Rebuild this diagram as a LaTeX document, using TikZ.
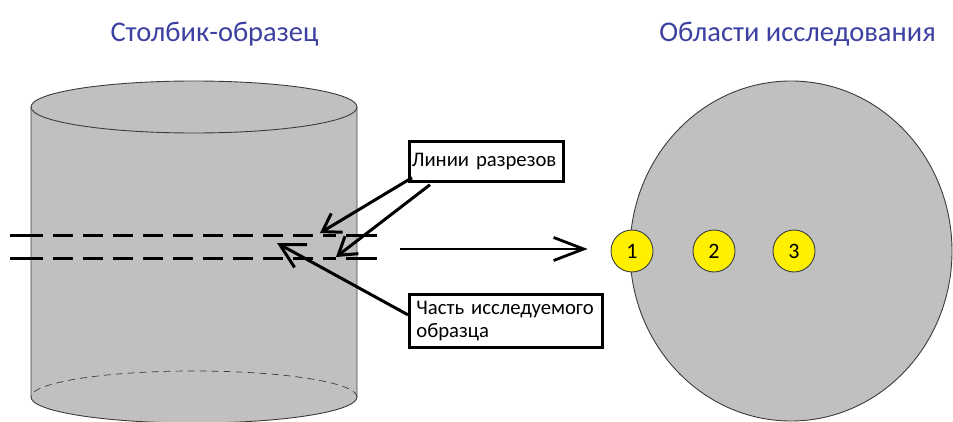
\documentclass[tikz,border=0pt]{standalone}
\usepackage{fontspec}
\setmainfont{Carlito}
\usetikzlibrary{arrows.meta,calc}
\definecolor{bodygray}{RGB}{192,192,192}
\definecolor{edgegray}{RGB}{60,60,60}
\definecolor{titleblue}{RGB}{60,64,160}
\definecolor{spotyellow}{RGB}{255,240,0}
\begin{document}
\begin{tikzpicture}[x=1pt,y=-1pt,
  title/.style={text=titleblue,font=\fontsize{28.5}{32}\selectfont,inner sep=0pt},
  outline/.style={draw=edgegray,line width=0.9pt},
  cutline/.style={line width=3pt,black},
  labelbox/.style={draw=black,line width=2.7pt,fill=white,align=left,
    font=\fontsize{20.7}{23}\selectfont,anchor=north west},
  spot/.style={circle,minimum size=42pt,inner sep=0pt,fill=spotyellow,
    draw=edgegray,line width=0.9pt,font=\fontsize{22}{24}\selectfont},
  pointer/.style={line width=3pt,-{Straight Barb[length=17pt,width=22pt]}},
  bigpointer/.style={line width=2.8pt,-{Straight Barb[length=30pt,width=23pt]}}]
\useasboundingbox (0,0) rectangle (953,422);

% headings
\node[title] (head1) at (214.5,34) {Столбик-образец};
\node[title] (head2) at (797.5,34) {Области исследования};

% the sample column
\fill[bodygray] (31,107) rectangle (357,397);
\fill[bodygray] (194,397) ellipse[x radius=163,y radius=26];
\draw[outline] (31,107) -- (31,397)
  arc[start angle=180,end angle=0,x radius=163,y radius=26] -- (357,107);
\draw[outline,line width=0.7pt,dash pattern=on 7pt off 5pt]
  (357,397) arc[start angle=0,end angle=-180,x radius=163,y radius=26];
\filldraw[fill=bodygray,outline] (194,107) ellipse[x radius=163,y radius=26];

% cutting planes
\foreach \yy in {236,258}{
  \draw[cutline] (10,\yy) -- (43,\yy);
  \draw[cutline,dash pattern=on 20pt off 10pt] (53,\yy) -- (336,\yy);
  \draw[cutline] (346,\yy) -- (377,\yy);
}

% cross-section with the studied areas
\filldraw[fill=bodygray,outline] (791,251) ellipse[x radius=161,y radius=170];
\node[spot] (s1) at (632,251) {1};
\node[spot] (s2) at (714,251) {2};
\node[spot] (s3) at (794,251) {3};

% callouts
\node[labelbox,inner xsep=2.5pt,inner ysep=0pt,minimum height=40pt,text width=149pt]
  (lbl1) at (408,140) {Линии разрезов};
\node[labelbox,inner xsep=7pt,inner ysep=3pt,minimum height=53pt,text width=179pt]
  (lbl2) at (408,293) {Часть исследуемого\\образца};

\coordinate (cutA) at (320,233);
\coordinate (cutB) at (336,257);
\coordinate (slab) at (277,243);
\coordinate (fromA) at ($(lbl1.south west)+(4,-5)$);
\coordinate (fromB) at ($(lbl1.south west)+(22,2)$);
\coordinate (fromC) at ($(lbl2.west)+(0,-6)$);
\coordinate (mapFrom) at (400,249);

\draw[pointer] (fromA) -- (cutA);
\draw[pointer] (fromB) -- (cutB);
\draw[pointer,-{Straight Barb[length=24pt,width=26pt]}] (fromC) -- (slab);
\draw[bigpointer,shorten >=23pt] (mapFrom) -- (s1.west |- mapFrom);
\end{tikzpicture}
\end{document}
